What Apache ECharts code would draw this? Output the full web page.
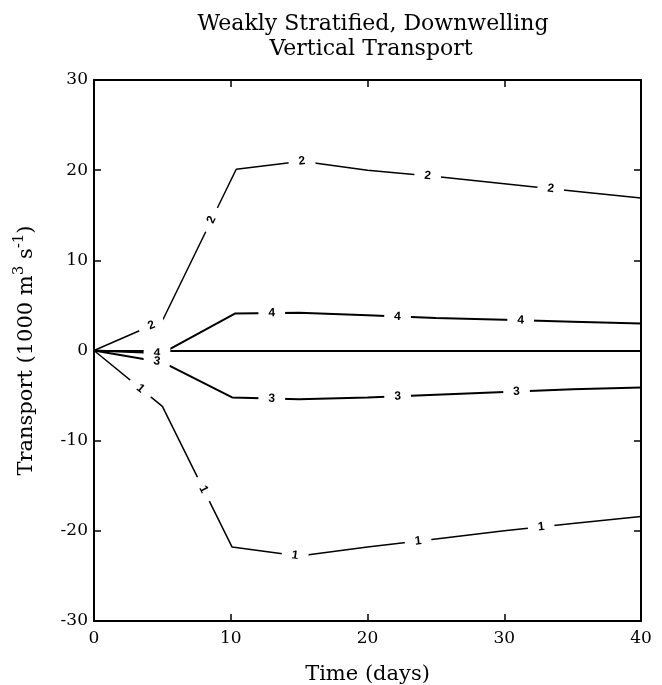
<!DOCTYPE html>
<html><head><meta charset="utf-8">
<script src="https://cdn.jsdelivr.net/npm/echarts@6/dist/echarts.min.js"></script>
<style>html,body{margin:0;padding:0;background:#fff}#c{width:662px;height:685px}</style>
</head><body><div id="c"></div>
<script>
// Data (days, transport in 1000 m^3 s^-1)
const curve1 = [[0,0],[5,-6.2],[10.1,-21.8],[15,-22.8],[20,-21.8],[25,-20.9],[30,-20.0],[35,-19.2],[40,-18.4]];
const curve2 = [[0,0],[5,3.3],[10.4,20.1],[15.2,21.0],[20,20.0],[25,19.3],[30,18.5],[35,17.7],[40,16.9]];
const curve3 = [[0,0],[5,-1.3],[10.1,-5.2],[15,-5.4],[20,-5.2],[25,-4.9],[30,-4.6],[35,-4.3],[40,-4.1]];
const curve4 = [[0,0],[5,-0.3],[10.3,4.1],[15,4.2],[20,3.9],[25,3.6],[30,3.4],[35,3.2],[40,3.0]];
const curveNames = ['1','2','3','4'];
// x positions (days) of the contour-style labels along each curve
const labelX1 = [3.4, 8.0, 14.7, 23.7, 32.7];
const labelX2 = [4.2, 8.6, 15.2, 24.4, 33.4];
const labelX3 = [4.6, 13.0, 22.2, 30.9];
const labelX4 = [4.6, 13.0, 22.2, 31.2];
const xRange = [0, 40, 10];
const yRange = [-30, 30, 10];

const curves = [curve1, curve2, curve3, curve4];
const labelXs = [labelX1, labelX2, labelX3, labelX4];
const widths = [1.5, 1.5, 2, 2];
const labelZ = [5, 5, 7, 6];

function interp(c, x){
  for (let i=0;i<c.length-1;i++){
    if (x>=c[i][0] && x<=c[i+1][0]){
      const t=(x-c[i][0])/(c[i+1][0]-c[i][0]);
      return {y:c[i][1]+t*(c[i+1][1]-c[i][1]), i:i};
    }
  }
  return {y:c[c.length-1][1], i:c.length-2};
}

const serif = '"DejaVu Serif", serif';
const chart = echarts.init(document.getElementById('c'));
const axisLineStyle = {onZero:false, lineStyle:{color:'#000', width:2}};
const tickStyle = {inside:true, length:7, lineStyle:{color:'#000', width:1.5}};

const series = [];
curves.forEach((c,k)=>{
  series.push({type:'line', data:c, symbol:'none', silent:true,
    lineStyle:{color:'#000', width:widths[k]}, z:2});
});
curves.forEach((c,k)=>{
  series.push({type:'custom', silent:true, z:labelZ[k],
    data: labelXs[k].map(x=>{ const r = interp(c,x); return [x, r.y, r.i]; }),
    renderItem: function(params, api){
      const p = api.coord([api.value(0), api.value(1)]);
      const i = api.value(2);
      const a = api.coord(c[i]), b = api.coord(c[i+1]);
      let ang = Math.atan2(-(b[1]-a[1]), b[0]-a[0]);
      if (ang > Math.PI/2) ang -= Math.PI; if (ang < -Math.PI/2) ang += Math.PI;
      return {type:'text', x:p[0], y:p[1], rotation:ang, silent:true,
        style:{text:curveNames[k], fill:'#000', align:'center', verticalAlign:'middle',
          font:'bold 12px "Liberation Sans", Arial, sans-serif',
          backgroundColor:'#fff', padding:[0,10]}};
    }
  });
});
series.push({type:'line', data:[], markLine:{silent:true, symbol:'none', label:{show:false},
  lineStyle:{color:'#000', width:2, type:'solid'}, data:[{yAxis:0}]}, z:3});

chart.setOption({
  animation:false,
  title:[
    {text:'Weakly Stratified, Downwelling', left:368, textAlign:'center', top:8,
      textStyle:{fontFamily:serif, fontWeight:'normal', fontSize:22, color:'#000'}},
    {text:'Vertical Transport', left:366, textAlign:'center', top:33,
      textStyle:{fontFamily:serif, fontWeight:'normal', fontSize:22, color:'#000'}}
  ],
  grid:{left:94, right:21, top:80, bottom:64, show:false, outerBoundsMode:'none', containLabel:false},
  xAxis:[{type:'value', min:xRange[0], max:xRange[1], interval:xRange[2], name:'Time (days)', nameLocation:'middle', nameGap:43,
    nameTextStyle:{fontFamily:serif, fontSize:21, color:'#000'},
    axisLine:axisLineStyle, axisTick:tickStyle,
    axisLabel:{fontFamily:serif, fontSize:17, color:'#000', margin:9}, splitLine:{show:false}},
    {type:'value', min:xRange[0], max:xRange[1], interval:xRange[2], position:'top',
    axisLine:axisLineStyle, axisTick:tickStyle, axisLabel:{show:false}, splitLine:{show:false}}],
  yAxis:[{type:'value', min:yRange[0], max:yRange[1], interval:yRange[2],
    name:'Transport (1000 m{sup|3} s{sup|-1})', nameLocation:'middle', nameGap:52,
    nameTextStyle:{fontFamily:serif, fontSize:21, color:'#000', lineHeight:30,
      rich:{sup:{fontFamily:serif, fontSize:15, color:'#000', verticalAlign:'top', lineHeight:16}}},
    axisLine:axisLineStyle, axisTick:tickStyle,
    axisLabel:{fontFamily:serif, fontSize:17, color:'#000', margin:6}, splitLine:{show:false}},
    {type:'value', min:yRange[0], max:yRange[1], interval:yRange[2], position:'right',
    axisLine:axisLineStyle, axisTick:tickStyle, axisLabel:{show:false}, splitLine:{show:false}}],
  series: series
});
</script></body></html>
